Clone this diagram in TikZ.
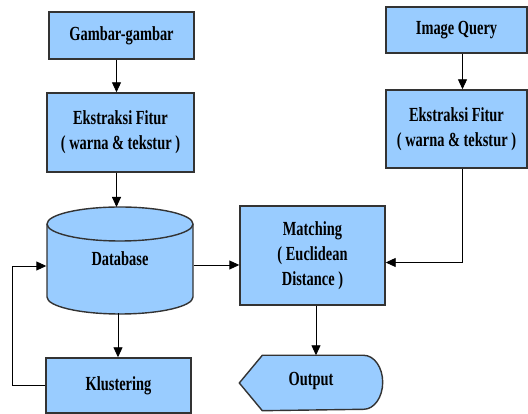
\documentclass[tikz,border=0pt]{standalone}
\usepackage{fontspec}
\usepackage{graphicx}
\setmainfont{Liberation Serif}
\usetikzlibrary{arrows.meta}
\definecolor{boxblue}{HTML}{99CCFF}
\definecolor{boxline}{HTML}{333333}
\newcommand{\sq}[1]{\scalebox{0.72}[1]{#1}}
\tikzset{
  proc/.style={draw=boxline, line width=1.4pt, fill=boxblue, align=center,
    font=\fontsize{20}{25}\selectfont\bfseries, inner sep=0pt},
  arr/.style={-{Triangle[length=10pt,width=9pt]}, line width=0.9pt}
}
\begin{document}
\begin{tikzpicture}[x=1pt,y=1pt]
    \useasboundingbox (0,0) rectangle (528,414);

    \node[proc, minimum width=145, minimum height=47] (gambar) at (121.5,378.5) {\sq{Gambar-gambar}};
    \node[proc, minimum width=147, minimum height=79] (fiturA) at (120.5,281.5) {\sq{Ekstraksi Fitur}\\\sq{( warna \& tekstur )}};
    \node[proc, minimum width=141, minimum height=46] (query) at (456.5,384) {\sq{Image Query}};
    \node[proc, minimum width=141, minimum height=78] (fiturB) at (456.5,285) {\sq{Ekstraksi Fitur}\\\sq{( warna \& tekstur )}};

    % database cylinder
    \draw[draw=boxline, line width=1.4pt, fill=boxblue] (47,190) -- (47,117) arc (180:360:73 and 17)
      -- (193,190) arc (0:180:73 and 17) -- cycle;
    \draw[draw=boxline, line width=1.4pt] (47,190) arc (180:360:73 and 17);
    \node[proc, draw=none, fill=none, minimum width=146, minimum height=107] (db) at (120,155) {\sq{Database}};

    \node[proc, minimum width=145, minimum height=55] (klust) at (118.5,28.5) {\sq{Klustering}};
    \node[proc, minimum width=145, minimum height=99] (match) at (312.5,158.5) {\sq{Matching}\\\sq{( Euclidean}\\\sq{Distance )}};

    % output shape
    \node[proc, draw=none, fill=none, minimum width=142, minimum height=54] (out) at (311,31) {};
    \draw[draw=boxline, line width=1.4pt, fill=boxblue] (out.west) -- ([xshift=23]out.north west)
      -- ([xshift=-19]out.north east) arc (90:-90:19 and 27) -- ([xshift=23]out.south west) -- cycle;
    \node[proc, draw=none, fill=none] at ([yshift=2]out) {\sq{Output}};

    \draw[arr] ([xshift=-5]gambar.south) -- ([xshift=-4]fiturA.north);
    \draw[arr] ([xshift=-4]fiturA.south) -- (116.5,207);
    \draw[arr] ([xshift=6]query.south) -- ([xshift=6]fiturB.north);
    \draw[arr] ([xshift=6]fiturB.south) |- ([yshift=-7]match.east);
    \draw[arr] ([yshift=-6]db.east) -- ([yshift=-9.5]match.west);
    \draw[arr] ([xshift=-2]db.south) -- ([xshift=-0.5]klust.north);
    \draw[arr] (klust.west) -- (12,28.5) |- ([yshift=-7]db.west);
    \draw[arr] ([xshift=3.5]match.south) -- ([xshift=3.5]match.south |- out.north);
\end{tikzpicture}
\end{document}
